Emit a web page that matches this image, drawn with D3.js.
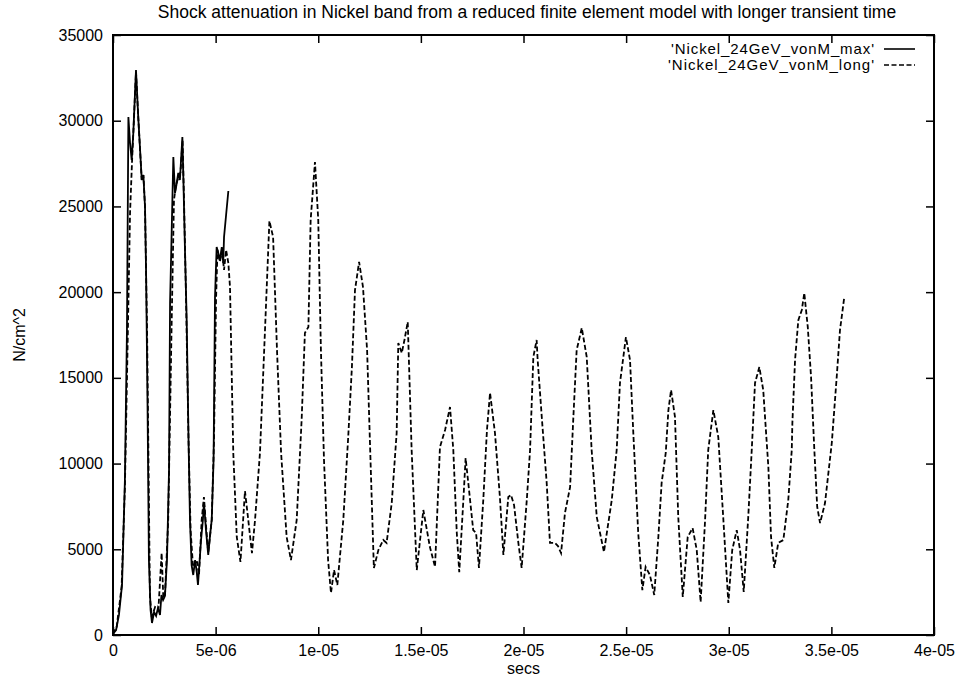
<!DOCTYPE html>
<html>
<head>
<meta charset="utf-8">
<script src="https://cdn.jsdelivr.net/npm/d3@7"></script>
<style>
  body { margin: 0; background: #fff; }
  svg { display: block; font-family: "Liberation Sans", Arial, Helvetica, sans-serif; }
  .tick text { font-size: 16px; fill: #000; }
  .tick line { stroke: #000; stroke-width: 1.5px; }
</style>
</head>
<body>
<svg id="chart" width="963" height="685"></svg>
<script>
// time in microseconds, stress in N/cm^2
const maxTimeUs = [0, 0.15, 0.29, 0.44, 0.58, 0.68, 0.75, 0.83, 0.91, 0.99, 1.12, 1.23, 1.32, 1.40, 1.48, 1.56, 1.61, 1.68, 1.75, 1.83,
  1.90, 2.00, 2.10, 2.19, 2.29, 2.36, 2.44, 2.53, 2.63, 2.73, 2.78, 2.85, 2.94, 3.02, 3.09, 3.18, 3.26, 3.38, 3.43, 3.51,
  3.59, 3.68, 3.75, 3.83, 3.91, 4.00, 4.08, 4.14, 4.19, 4.29, 4.38, 4.43, 4.53, 4.64, 4.73, 4.81, 4.90, 4.97, 5.05, 5.13,
  5.21, 5.30, 5.37, 5.41, 5.51, 5.62];
const maxVonM = [60, 290, 1170, 2920, 9040, 17790, 30210, 28700, 27710, 29280, 32960, 30210, 28290, 26540, 26830, 24970, 21290, 13710, 4370, 1460,
  700, 1340, 1110, 1570, 1170, 2330, 2040, 2270, 4370, 9620, 19370, 23040, 27880, 25780, 26250, 26950, 26540, 29050, 26540, 22280,
  18370, 11370, 6710, 4080, 3500, 4370, 3670, 2920, 3790, 5540, 6710, 7760, 6120, 4670, 5830, 6710, 10210, 19720, 22630, 22280,
  21870, 22630, 21700, 23220, 24500, 25900];

const longTimeUs = [0, 0.18, 0.42, 0.58, 0.68, 0.83, 0.93, 0.99, 1.12, 1.23, 1.40, 1.48, 1.56, 1.61, 1.66, 1.80, 1.89, 2.05, 2.21, 2.37,
  2.45, 2.53, 2.69, 2.86, 2.97, 3.07, 3.18, 3.29, 3.39, 3.46, 3.56, 3.68, 3.78, 3.90, 4.08, 4.19, 4.32, 4.43, 4.53, 4.64,
  4.81, 4.92, 5.02, 5.09, 5.21, 5.31, 5.41, 5.51, 5.62, 5.70, 5.86, 6.03, 6.21, 6.43, 6.59, 6.77, 6.92, 7.16, 7.40, 7.62,
  7.80, 7.99, 8.19, 8.46, 8.67, 8.95, 9.19, 9.35, 9.52, 9.63, 9.84, 10.00, 10.13, 10.28, 10.48, 10.62, 10.77, 10.93, 11.22, 11.46,
  11.64, 11.79, 11.99, 12.18, 12.38, 12.52, 12.71, 12.93, 13.17, 13.33, 13.58, 13.82, 13.90, 14.07, 14.20, 14.36, 14.55, 14.80, 15.12, 15.44,
  15.69, 15.93, 16.18, 16.42, 16.58, 16.75, 16.87, 17.07, 17.18, 17.31, 17.55, 17.69, 17.83, 18.04, 18.22, 18.37, 18.61, 18.85, 19.02, 19.26,
  19.39, 19.54, 19.75, 19.91, 20.16, 20.32, 20.48, 20.64, 20.69, 20.89, 21.13, 21.29, 21.53, 21.68, 21.83, 22.02, 22.27, 22.43, 22.59, 22.84,
  23.08, 23.32, 23.57, 23.92, 24.30, 24.54, 24.70, 24.99, 25.19, 25.35, 25.59, 25.79, 25.95, 26.16, 26.37, 26.57, 26.73, 26.93, 27.06, 27.19,
  27.38, 27.54, 27.76, 28.00, 28.24, 28.44, 28.63, 28.84, 29.00, 29.25, 29.49, 29.73, 29.98, 30.17, 30.39, 30.55, 30.73, 30.95, 31.12, 31.28,
  31.49, 31.68, 31.93, 32.06, 32.22, 32.41, 32.66, 32.90, 33.07, 33.10, 33.23, 33.39, 33.56, 33.68, 33.85, 34.01, 34.17, 34.31, 34.45, 34.69,
  35.02, 35.26, 35.42, 35.63];
const longVonM = [60, 480, 2820, 8650, 14870, 24600, 27700, 29280, 32840, 30200, 26540, 26830, 24970, 21290, 17790, 2220, 1050, 1630, 1460, 4780,
  2220, 2220, 6710, 18370, 25370, 26250, 26660, 27010, 28870, 25370, 19540, 11370, 6120, 3970, 4370, 3500, 6710, 8050, 6420, 4780,
  6710, 11370, 19540, 22460, 21760, 22460, 21290, 22460, 21700, 20300, 10620, 5720, 4260, 8400, 6710, 4780, 6710, 10620, 17620, 24150,
  23220, 16620, 10620, 5720, 4370, 6710, 12540, 17620, 17970, 24210, 27590, 24210, 16620, 10210, 4370, 2450, 3790, 2920, 6710, 11550,
  15630, 20120, 21760, 20300, 16620, 11200, 3910, 4960, 5540, 5370, 7700, 11780, 17030, 16450, 17210, 18260, 10790, 3790, 7290, 5130,
  3970, 10970, 11960, 13300, 10790, 5950, 3670, 7870, 10320, 8870, 6120, 5950, 3910, 7870, 11960, 14120, 11780, 8050, 4670, 8050,
  8170, 7580, 5370, 3910, 7870, 10790, 16220, 17210, 16040, 12720, 8870, 5370, 5370, 5190, 4780, 7120, 8630, 12720, 16620, 17910,
  16220, 10790, 6880, 4840, 7870, 10790, 14700, 17380, 16040, 11780, 5950, 2620, 3970, 3500, 2330, 5720, 8870, 10620, 13120, 14290,
  12720, 6880, 2220, 5720, 6240, 4960, 1920, 6530, 10790, 13120, 11550, 6880, 1870, 4960, 6120, 4960, 2510, 6880, 10790, 14700,
  15630, 14290, 9800, 5720, 3910, 5370, 5540, 7870, 10790, 12370, 16040, 18370, 18960, 19950, 17970, 15050, 10790, 7470, 6530, 7700,
  11200, 15050, 17790, 19720];

const xTicks = [0, 5e-6, 1e-5, 1.5e-5, 2e-5, 2.5e-5, 3e-5, 3.5e-5, 4e-5];
const xTickLabels = ["0", "5e-06", "1e-05", "1.5e-05", "2e-05", "2.5e-05", "3e-05", "3.5e-05", "4e-05"];
const yTicks = [0, 5000, 10000, 15000, 20000, 25000, 30000, 35000];
const seriesNames = ["'Nickel_24GeV_vonM_max'", "'Nickel_24GeV_vonM_long'"];

const plotLeft = 113, plotRight = 934, plotTop = 35, plotBottom = 635;

const svg = d3.select("#chart");
const x = d3.scaleLinear().domain([0, 4e-5]).range([plotLeft, plotRight]);
const y = d3.scaleLinear().domain([0, 35000]).range([plotBottom, plotTop]);

const toPts = (ts, vs) => ts.map((t, i) => [t * 1e-6, vs[i]]);
const line = d3.line().x(d => x(d[0])).y(d => y(d[1]));

// axes, ticks pointing inward on all four sides
const gx = svg.append("g").attr("transform", `translate(0,${plotBottom})`)
  .call(d3.axisBottom(x).tickValues(xTicks).tickFormat((d, i) => xTickLabels[i]).tickSize(-8).tickPadding(10));
const gxTop = svg.append("g").attr("transform", `translate(0,${plotTop})`)
  .call(d3.axisTop(x).tickValues(xTicks).tickFormat("").tickSize(-8));
const gy = svg.append("g").attr("transform", `translate(${plotLeft},0)`)
  .call(d3.axisLeft(y).tickValues(yTicks).tickFormat(d3.format("d")).tickSize(-8).tickPadding(10));
const gyRight = svg.append("g").attr("transform", `translate(${plotRight},0)`)
  .call(d3.axisRight(y).tickValues(yTicks).tickFormat("").tickSize(-8));
[gx, gxTop, gy, gyRight].forEach(g => g.select(".domain").remove());

svg.append("rect")
  .attr("x", plotLeft).attr("y", plotTop).attr("width", plotRight - plotLeft).attr("height", plotBottom - plotTop)
  .attr("fill", "none").attr("stroke", "#000").attr("stroke-width", 2);

// data
svg.append("path").datum(toPts(longTimeUs, longVonM))
  .attr("d", line).attr("fill", "none").attr("stroke", "#000")
  .attr("stroke-width", 1.8).attr("stroke-dasharray", "5,2.5");
svg.append("path").datum(toPts(maxTimeUs, maxVonM))
  .attr("d", line).attr("fill", "none").attr("stroke", "#000")
  .attr("stroke-width", 1.8);

// legend
const legend = svg.append("g").attr("font-size", 15);
seriesNames.forEach((name, i) => {
  const ly = 49 + i * 16;
  legend.append("text").attr("x", 874).attr("y", ly).attr("dy", "0.35em")
    .attr("text-anchor", "end").attr("textLength", i === 0 ? 203 : 206)
    .attr("lengthAdjust", "spacing").text(name);
  legend.append("line").attr("x1", 884).attr("x2", 915).attr("y1", ly).attr("y2", ly)
    .attr("stroke", "#000").attr("stroke-width", 1.6)
    .attr("stroke-dasharray", i === 1 ? "5,2.5" : null);
});

// titles
svg.append("text").attr("x", 527).attr("y", 18)
  .attr("text-anchor", "middle").attr("font-size", 17.5)
  .text("Shock attenuation in Nickel band from a reduced finite element model with longer transient time");
svg.append("text").attr("x", (plotLeft + plotRight) / 2).attr("y", 674)
  .attr("text-anchor", "middle").attr("font-size", 16).text("secs");
svg.append("text").attr("transform", `translate(25,${(plotTop + plotBottom) / 2}) rotate(-90)`)
  .attr("text-anchor", "middle").attr("font-size", 16).text("N/cm^2");
</script>
</body>
</html>
